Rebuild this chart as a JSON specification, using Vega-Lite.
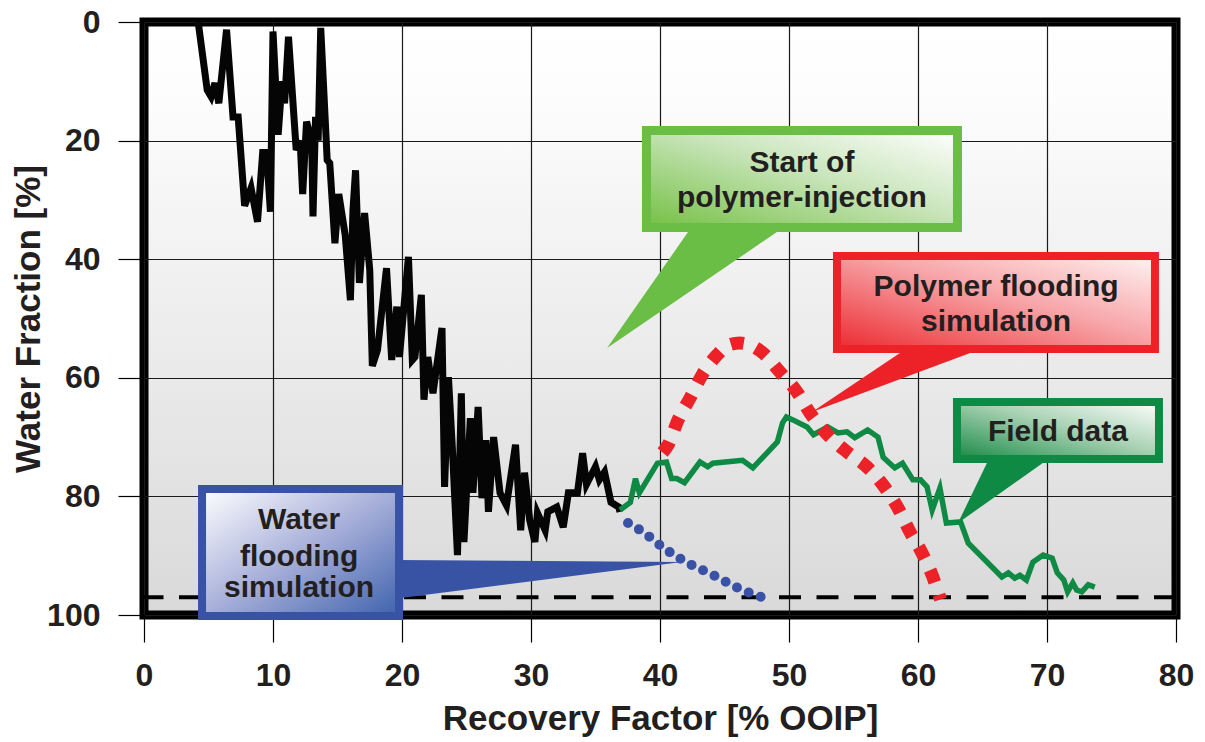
{
  "$schema": "https://vega.github.io/schema/vega-lite/v6.json",
  "width": 1032,
  "height": 593,
  "autosize": {"type": "none"},
  "padding": {"left": 144, "top": 22, "right": 29, "bottom": 127},
  "background": "white",
  "config": {
    "font": "Liberation Sans",
    "view": {
      "fill": {"gradient": "linear", "x1": 0, "y1": 0, "x2": 0, "y2": 1,
        "stops": [{"offset": 0, "color": "#ffffff"}, {"offset": 0.12, "color": "#fdfdfd"}, {"offset": 1, "color": "#d9d9d9"}]},
      "stroke": "#000000",
      "strokeWidth": 9
    }
  },
  "datasets": {
    "history": [
      {"rf": 4.2, "wf": 0}, {"rf": 4.9, "wf": 11.5}, {"rf": 5.2, "wf": 12.6}, {"rf": 5.5, "wf": 10.3}, {"rf": 5.8, "wf": 13.7},
      {"rf": 6.4, "wf": 1.3}, {"rf": 6.9, "wf": 16}, {"rf": 7.3, "wf": 16}, {"rf": 7.8, "wf": 31}, {"rf": 8.3, "wf": 28},
      {"rf": 8.8, "wf": 33.7}, {"rf": 9.2, "wf": 22}, {"rf": 9.5, "wf": 22}, {"rf": 9.8, "wf": 32}, {"rf": 10.0, "wf": 1.6},
      {"rf": 10.4, "wf": 19}, {"rf": 10.7, "wf": 10}, {"rf": 10.9, "wf": 13.7}, {"rf": 11.2, "wf": 2.5}, {"rf": 11.8, "wf": 21.6},
      {"rf": 12.1, "wf": 20}, {"rf": 12.3, "wf": 29}, {"rf": 12.6, "wf": 16.8}, {"rf": 13.0, "wf": 20}, {"rf": 13.1, "wf": 32.8},
      {"rf": 13.3, "wf": 16}, {"rf": 13.5, "wf": 20}, {"rf": 13.7, "wf": 1}, {"rf": 14.2, "wf": 23.3}, {"rf": 14.4, "wf": 23.8},
      {"rf": 14.8, "wf": 37.3}, {"rf": 15.1, "wf": 29}, {"rf": 15.6, "wf": 36}, {"rf": 16.0, "wf": 46.9}, {"rf": 16.2, "wf": 31.7},
      {"rf": 16.4, "wf": 25}, {"rf": 16.7, "wf": 44}, {"rf": 17.1, "wf": 32.2}, {"rf": 17.5, "wf": 41.8}, {"rf": 17.7, "wf": 58},
      {"rf": 18.1, "wf": 55.3}, {"rf": 18.8, "wf": 41.5}, {"rf": 19.2, "wf": 57}, {"rf": 19.6, "wf": 48}, {"rf": 19.8, "wf": 56.5},
      {"rf": 20.5, "wf": 39.6}, {"rf": 20.8, "wf": 57}, {"rf": 21.0, "wf": 56.5}, {"rf": 21.5, "wf": 46}, {"rf": 21.7, "wf": 63.7},
      {"rf": 22.0, "wf": 56.5}, {"rf": 22.4, "wf": 62.6}, {"rf": 23.1, "wf": 51.6}, {"rf": 23.3, "wf": 78.4}, {"rf": 23.6, "wf": 59.9},
      {"rf": 23.9, "wf": 71.7}, {"rf": 24.3, "wf": 89.9}, {"rf": 24.6, "wf": 62.6}, {"rf": 24.8, "wf": 87.7}, {"rf": 25.3, "wf": 66.8},
      {"rf": 25.5, "wf": 79.4}, {"rf": 25.9, "wf": 64.9}, {"rf": 26.2, "wf": 80.3}, {"rf": 26.5, "wf": 70.5}, {"rf": 26.7, "wf": 82.6},
      {"rf": 27.1, "wf": 70}, {"rf": 27.6, "wf": 79.4}, {"rf": 28.1, "wf": 81.5}, {"rf": 28.8, "wf": 71.3}, {"rf": 29.2, "wf": 85.7},
      {"rf": 29.5, "wf": 76}, {"rf": 29.9, "wf": 84}, {"rf": 30.3, "wf": 87.7}, {"rf": 30.5, "wf": 82.8}, {"rf": 31.1, "wf": 85.7},
      {"rf": 31.3, "wf": 82.6}, {"rf": 32.0, "wf": 81.8}, {"rf": 32.5, "wf": 85.2}, {"rf": 32.9, "wf": 79.4}, {"rf": 33.6, "wf": 79.4},
      {"rf": 34.0, "wf": 72.7}, {"rf": 34.3, "wf": 78}, {"rf": 35.0, "wf": 75}, {"rf": 35.3, "wf": 77.2}, {"rf": 35.7, "wf": 75.9},
      {"rf": 36.2, "wf": 81}, {"rf": 36.8, "wf": 81.8}, {"rf": 36.9, "wf": 82.6}
    ],
    "field": [
      {"rf": 36.9, "wf": 82.3}, {"rf": 37.7, "wf": 81}, {"rf": 38.1, "wf": 77}, {"rf": 38.4, "wf": 79.4}, {"rf": 39.8, "wf": 74.4},
      {"rf": 40.5, "wf": 74.2}, {"rf": 40.9, "wf": 77}, {"rf": 41.3, "wf": 77}, {"rf": 41.9, "wf": 77.7}, {"rf": 43.1, "wf": 74.2},
      {"rf": 43.7, "wf": 75}, {"rf": 44.1, "wf": 74.4}, {"rf": 46.4, "wf": 73.9}, {"rf": 47.2, "wf": 75.2}, {"rf": 49.1, "wf": 70.8},
      {"rf": 49.5, "wf": 67.6}, {"rf": 49.8, "wf": 66.6}, {"rf": 50.3, "wf": 67.1}, {"rf": 51.4, "wf": 68.3}, {"rf": 51.9, "wf": 69.6},
      {"rf": 53.0, "wf": 68.3}, {"rf": 53.8, "wf": 69.3}, {"rf": 54.5, "wf": 69.1}, {"rf": 55.1, "wf": 70.1}, {"rf": 56.1, "wf": 68.8},
      {"rf": 56.9, "wf": 70}, {"rf": 57.3, "wf": 73.4}, {"rf": 58.2, "wf": 75.2}, {"rf": 58.8, "wf": 74.4}, {"rf": 59.6, "wf": 77.2},
      {"rf": 60.2, "wf": 77.2}, {"rf": 60.7, "wf": 78.4}, {"rf": 61.1, "wf": 82.3}, {"rf": 61.7, "wf": 78.6}, {"rf": 62.2, "wf": 84.5},
      {"rf": 63.3, "wf": 84.3}, {"rf": 63.9, "wf": 87.9}, {"rf": 66.5, "wf": 93.6}, {"rf": 67.0, "wf": 92.9}, {"rf": 67.5, "wf": 93.8},
      {"rf": 67.9, "wf": 93.3}, {"rf": 68.4, "wf": 94.1}, {"rf": 68.9, "wf": 91.1}, {"rf": 69.7, "wf": 89.9}, {"rf": 70.4, "wf": 90.4},
      {"rf": 70.8, "wf": 92.9}, {"rf": 71.3, "wf": 94.1}, {"rf": 71.6, "wf": 96.1}, {"rf": 72.0, "wf": 94.6}, {"rf": 72.3, "wf": 95.8},
      {"rf": 72.7, "wf": 96.1}, {"rf": 73.2, "wf": 94.9}, {"rf": 73.7, "wf": 95.3}
    ],
    "polymer": [
      {"rf": 40.2, "wf": 72.6}, {"rf": 40.62, "wf": 71.33}, {"rf": 41.4, "wf": 67.12}, {"rf": 42.33, "wf": 63.41}, {"rf": 43.26, "wf": 59.53},
      {"rf": 44.42, "wf": 56.16}, {"rf": 45.3, "wf": 54.5}, {"rf": 46.2, "wf": 54.13}, {"rf": 47.1, "wf": 54.6}, {"rf": 47.98, "wf": 55.82}, {"rf": 49.3, "wf": 59.02}, {"rf": 50.62, "wf": 62.39},
      {"rf": 51.63, "wf": 65.94}, {"rf": 53.02, "wf": 69.65}, {"rf": 54.5, "wf": 72.51}, {"rf": 56.05, "wf": 75.04}, {"rf": 57.29, "wf": 78.08},
      {"rf": 58.45, "wf": 81.96}, {"rf": 59.38, "wf": 86.0}, {"rf": 60.31, "wf": 89.54}, {"rf": 61.09, "wf": 93.25}, {"rf": 61.75, "wf": 97.4}
    ],
    "water": [
      {"rf": 37.52, "wf": 84.49}, {"rf": 38.68, "wf": 86.0}, {"rf": 40.39, "wf": 88.87}, {"rf": 42.17, "wf": 91.23},
      {"rf": 44.11, "wf": 93.25}, {"rf": 46.05, "wf": 95.45}, {"rf": 48.06, "wf": 97.13}
    ],
    "boxes": [
      {"id": "start", "x": 38.95, "x2": 63.06, "y": 18.3, "y2": 34.65},
      {"id": "polymer", "x": 53.72, "x2": 78.37, "y": 39.46, "y2": 55.14},
      {"id": "field", "x": 63.02, "x2": 78.68, "y": 64.08, "y2": 73.69},
      {"id": "water", "x": 4.5, "x2": 19.77, "y": 78.75, "y2": 100.17}
    ],
    "pointers": [
      {"id": "start", "y": 34.0, "x": 42.63, "x2": 50.02},
      {"id": "start", "y": 54.97, "x": 35.9, "x2": 35.9},
      {"id": "polymer", "y": 55.0, "x": 59.15, "x2": 65.03},
      {"id": "polymer", "y": 65.77, "x": 51.78, "x2": 51.78},
      {"id": "field", "y": 73.5, "x": 65.54, "x2": 70.25},
      {"id": "field", "y": 84.49, "x": 63.1, "x2": 63.1}
    ],
    "waterPointer": [
      {"x": 19.6, "y": 90.73, "y2": 97.2},
      {"x": 41.71, "y": 91.06, "y2": 91.06}
    ],
    "labels": [
      {"x": 51.0, "y": 23.78, "label": "Start of"},
      {"x": 51.0, "y": 29.68, "label": "polymer-injection"},
      {"x": 66.05, "y": 44.69, "label": "Polymer flooding"},
      {"x": 66.05, "y": 50.59, "label": "simulation"},
      {"x": 70.85, "y": 69.14, "label": "Field data"},
      {"x": 12.02, "y": 83.98, "label": "Water"},
      {"x": 12.02, "y": 90.22, "label": "flooding"},
      {"x": 12.02, "y": 95.45, "label": "simulation"}
    ]
  },
  "layer": [
    {
      "data": {"name": "history"},
      "mark": {"type": "line", "color": "#050505", "strokeWidth": 7, "strokeJoin": "miter"},
      "encoding": {
        "x": {"field": "rf", "type": "quantitative",
          "scale": {"domain": [0, 80], "nice": false, "zero": false},
          "axis": {"title": "Recovery Factor [% OOIP]", "values": [0, 10, 20, 30, 40, 50, 60, 70, 80],
            "domain": false, "grid": true, "gridColor": "#1a1a1a", "gridWidth": 1.2,
            "ticks": true, "tickColor": "#000000", "tickSize": 27, "tickWidth": 1.2,
            "labelFont": "Liberation Sans", "labelFontSize": 32, "labelFontWeight": "bold", "labelColor": "#231f20",
            "labelPadding": 18, "labelFlush": false,
            "titleFont": "Liberation Sans", "titleFontSize": 35, "titleFontWeight": "bold", "titleColor": "#231f20", "titlePadding": 10}},
        "y": {"field": "wf", "type": "quantitative",
          "scale": {"domain": [0, 100], "reverse": true, "nice": false, "zero": false},
          "axis": {"title": "Water Fraction [%]", "values": [0, 20, 40, 60, 80, 100],
            "domain": false, "grid": true, "gridColor": "#1a1a1a", "gridWidth": 1.2,
            "ticks": true, "tickColor": "#000000", "tickSize": 26, "tickWidth": 1.2,
            "labelFont": "Liberation Sans", "labelFontSize": 32, "labelFontWeight": "bold", "labelColor": "#231f20",
            "labelPadding": 18, "labelFlush": false,
            "titleFont": "Liberation Sans", "titleFontSize": 35, "titleFontWeight": "bold", "titleColor": "#231f20", "titlePadding": 0}},
        "order": {"value": null}
      }
    },
    {
      "data": {"values": [{"level": 97}]},
      "mark": {"type": "rule", "color": "#000000", "strokeWidth": 4, "strokeDash": [22, 15.5]},
      "encoding": {"y": {"field": "level", "type": "quantitative"}}
    },
    {
      "data": {"name": "field"},
      "mark": {"type": "line", "color": "#0f8a44", "strokeWidth": 5.5},
      "encoding": {
        "x": {"field": "rf", "type": "quantitative"},
        "y": {"field": "wf", "type": "quantitative"},
        "order": {"value": null}
      }
    },
    {
      "data": {"name": "water"},
      "mark": {"type": "line", "color": "#3a52a6", "strokeWidth": 10, "strokeDash": [0, 12.7], "strokeCap": "round", "interpolate": "monotone"},
      "encoding": {
        "x": {"field": "rf", "type": "quantitative"},
        "y": {"field": "wf", "type": "quantitative"}
      }
    },
    {
      "data": {"name": "polymer"},
      "mark": {"type": "line", "color": "#ed2228", "strokeWidth": 13, "strokeDash": [13, 13], "strokeCap": "butt", "interpolate": "monotone"},
      "encoding": {
        "x": {"field": "rf", "type": "quantitative"},
        "y": {"field": "wf", "type": "quantitative"}
      }
    },
    {
      "data": {"name": "boxes"},
      "transform": [{"filter": "datum.id == 'start'"}],
      "mark": {"type": "rect", "stroke": "#6abd45", "strokeWidth": 9,
        "fill": {"gradient": "linear", "x1": 0, "y1": 1, "x2": 1, "y2": 0,
          "stops": [{"offset": 0, "color": "#74c043"}, {"offset": 0.55, "color": "#c9e5bb"}, {"offset": 1, "color": "#ffffff"}]}},
      "encoding": {
        "x": {"field": "x", "type": "quantitative"}, "x2": {"field": "x2"},
        "y": {"field": "y", "type": "quantitative"}, "y2": {"field": "y2"}
      }
    },
    {
      "data": {"name": "pointers"},
      "transform": [{"filter": "datum.id == 'start'"}],
      "mark": {"type": "area", "orient": "horizontal", "color": "#6abd45", "opacity": 1},
      "encoding": {
        "y": {"field": "y", "type": "quantitative"},
        "x": {"field": "x", "type": "quantitative"}, "x2": {"field": "x2"}
      }
    },
    {
      "data": {"name": "boxes"},
      "transform": [{"filter": "datum.id == 'polymer'"}],
      "mark": {"type": "rect", "stroke": "#ed2228", "strokeWidth": 8,
        "fill": {"gradient": "linear", "x1": 0, "y1": 1, "x2": 1, "y2": 0,
          "stops": [{"offset": 0, "color": "#ec2a30"}, {"offset": 0.55, "color": "#f7a5a8"}, {"offset": 1, "color": "#fff3f3"}]}},
      "encoding": {
        "x": {"field": "x", "type": "quantitative"}, "x2": {"field": "x2"},
        "y": {"field": "y", "type": "quantitative"}, "y2": {"field": "y2"}
      }
    },
    {
      "data": {"name": "pointers"},
      "transform": [{"filter": "datum.id == 'polymer'"}],
      "mark": {"type": "area", "orient": "horizontal", "color": "#ed2228", "opacity": 1},
      "encoding": {
        "y": {"field": "y", "type": "quantitative"},
        "x": {"field": "x", "type": "quantitative"}, "x2": {"field": "x2"}
      }
    },
    {
      "data": {"name": "boxes"},
      "transform": [{"filter": "datum.id == 'field'"}],
      "mark": {"type": "rect", "stroke": "#0f8a44", "strokeWidth": 8,
        "fill": {"gradient": "linear", "x1": 0, "y1": 1, "x2": 1, "y2": 0,
          "stops": [{"offset": 0, "color": "#178a45"}, {"offset": 0.55, "color": "#a9d2b4"}, {"offset": 1, "color": "#ffffff"}]}},
      "encoding": {
        "x": {"field": "x", "type": "quantitative"}, "x2": {"field": "x2"},
        "y": {"field": "y", "type": "quantitative"}, "y2": {"field": "y2"}
      }
    },
    {
      "data": {"name": "pointers"},
      "transform": [{"filter": "datum.id == 'field'"}],
      "mark": {"type": "area", "orient": "horizontal", "color": "#0f8a44", "opacity": 1},
      "encoding": {
        "y": {"field": "y", "type": "quantitative"},
        "x": {"field": "x", "type": "quantitative"}, "x2": {"field": "x2"}
      }
    },
    {
      "data": {"name": "boxes"},
      "transform": [{"filter": "datum.id == 'water'"}],
      "mark": {"type": "rect", "stroke": "#3953a4", "strokeWidth": 8,
        "fill": {"gradient": "linear", "x1": 0, "y1": 0, "x2": 1, "y2": 1,
          "stops": [{"offset": 0, "color": "#ffffff"}, {"offset": 0.5, "color": "#a7afd9"}, {"offset": 1, "color": "#3e62ad"}]}},
      "encoding": {
        "x": {"field": "x", "type": "quantitative"}, "x2": {"field": "x2"},
        "y": {"field": "y", "type": "quantitative"}, "y2": {"field": "y2"}
      }
    },
    {
      "data": {"name": "waterPointer"},
      "mark": {"type": "area", "orient": "vertical", "color": "#3953a4", "opacity": 1},
      "encoding": {
        "x": {"field": "x", "type": "quantitative"},
        "y": {"field": "y", "type": "quantitative"}, "y2": {"field": "y2"}
      }
    },
    {
      "data": {"name": "labels"},
      "mark": {"type": "text", "font": "Liberation Sans", "fontSize": 30, "fontWeight": "bold", "color": "#231f20", "align": "center", "baseline": "middle"},
      "encoding": {
        "x": {"field": "x", "type": "quantitative"},
        "y": {"field": "y", "type": "quantitative"},
        "text": {"field": "label"}
      }
    }
  ]
}
